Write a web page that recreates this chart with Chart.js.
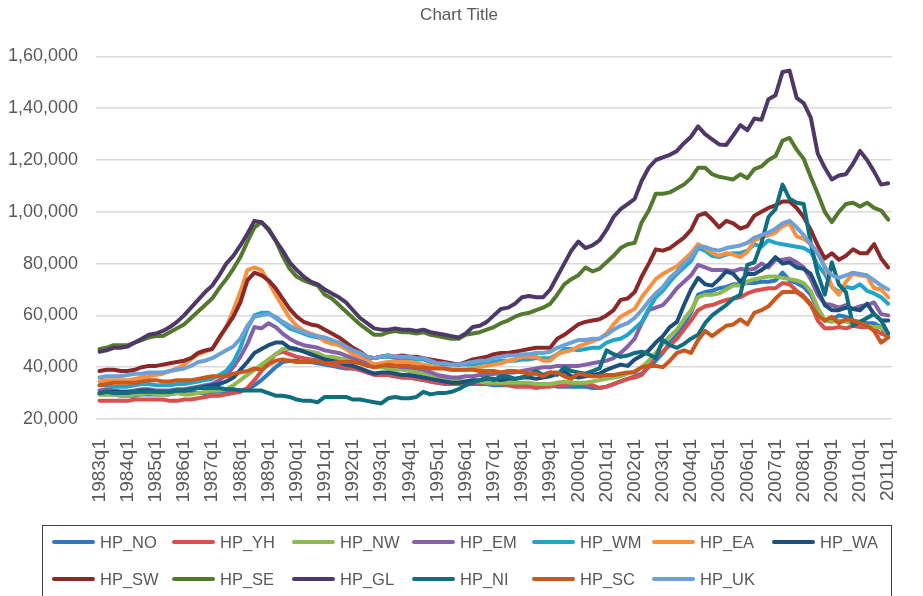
<!DOCTYPE html>
<html>
<head>
<meta charset="utf-8">
<title>Chart Title</title>
<script src="https://cdn.jsdelivr.net/npm/chart.js@4.4.0/dist/chart.umd.min.js"></script>
<style>
  html, body { margin: 0; padding: 0; background: #fff; }
  #wrap { width: 923px; height: 596px; }
</style>
</head>
<body>
<div id="wrap"><canvas id="hpChart" width="923" height="596"></canvas></div>
<script>
// quarterly categories 1983q1 .. 2011q1
const years = [];
for (let y = 1983; y <= 2011; y++) years.push(y);
const quarters = [];
years.forEach(y => [1, 2, 3, 4].forEach(q => {
  if (y < 2011 || q === 1) quarters.push(y + 'q' + q);
}));

const yTicks = [20000, 40000, 60000, 80000, 100000, 120000, 140000, 160000];

const seriesNames = ['HP_NO', 'HP_YH', 'HP_NW', 'HP_EM', 'HP_WM', 'HP_EA', 'HP_WA',
                     'HP_SW', 'HP_SE', 'HP_GL', 'HP_NI', 'HP_SC', 'HP_UK'];
const seriesColors = ['#3078C0', '#D8504D', '#8EB953', '#8761A8', '#22A6C8', '#F69142', '#1D4F7C',
                      '#8C2828', '#52792E', '#4E3868', '#106E7F', '#C9581C', '#6CA0D6'];

// values, one per quarter
const hpNO = [29500,29500,29500,29000, 29000,29000,29500,29500, 29500,29500,29500,30000, 30000,30000,30000,30000,
  30500,30500,30500,31000, 31000,31500,33000,35000, 37500,40000,42000,42500, 42500,42000,42000,41500,
  41000,40500,40000,39500, 39500,39000,38000,37500, 37500,37000,36500,36000, 36000,35500,35000,34500,
  34000,33500,33500,33500, 33500,33500,33500,33500, 33000,33000,33000,33000, 33000,33000,32500,32500,
  33000,32500,32500,32500, 32500,32500,32000,32000, 32500,33500,34500,35500, 36500,37500,40000,42500,
  45500,49500,52500,56500, 61000,68000,69000,69500, 70500,71000,72000,72000, 72500,72500,73000,73000,
  73500,76500,73500,72500, 71000,68000,62500,58000, 58500,60000,59500,58000, 57500,57000,57000,55500, 51500];

const hpYH = [27000,27000,27000,27000, 27000,27500,27500,27500, 27500,27500,27000,27000, 27500,27500,28000,28500,
  29000,29000,29500,30000, 30500,32000,35000,38500, 42000,45000,46000,45000, 44000,43500,43000,42500,
  41500,41000,40500,40000, 39500,39000,38000,37000, 37000,37000,36500,36000, 36000,35500,35000,34500,
  34000,34000,33500,33500, 34000,34000,34000,34000, 33500,33500,33000,32500, 32500,32500,32000,32500,
  32500,33000,33000,33500, 33500,33500,33000,32000, 32500,33500,34500,35500, 36000,37000,40500,44500,
  46000,48500,51000,54500, 58000,62000,63500,64000, 65000,66000,66500,67000, 68500,69500,70000,70500,
  70500,72500,72000,69500, 67500,64500,58000,55000, 55000,55500,55000,56000, 55500,55500,55000,53000, 52000];

const hpNW = [29500,29500,29500,29000, 29000,29500,29500,30000, 29500,29500,29500,30000, 29500,29500,30000,30500,
  31000,31000,31500,33000, 35000,37000,39000,41000, 43000,45000,47000,47000, 46500,46500,46000,45500,
  44000,44000,43500,43000, 42500,42000,41000,40000, 40000,39500,39000,39000, 38500,38000,37500,36500,
  36000,35500,35000,35000, 34500,34500,34500,34000, 34000,34000,34000,34000, 34000,34000,33500,33500,
  33500,34000,34500,34000, 34000,34000,34500,35000, 35500,36000,36500,37500, 38500,40000,42500,45500,
  49000,52000,54500,58500, 62000,67000,68000,68000, 68500,70000,71500,71500, 73000,74000,74500,75000,
  75000,74500,74000,73500, 72500,69500,63000,58000, 57500,58000,57500,57000, 57000,56000,55500,55500, 53000];

const hpEM = [31000,31500,31000,30500, 30500,31000,31500,31500, 31000,31000,31000,31500, 31500,32000,32500,33000,
  33500,35000,37000,40000, 44000,49000,55500,55000, 57000,55500,53000,51000, 49500,48500,48000,47500,
  46500,46000,45500,44500, 43500,42500,41500,41000, 41000,40500,40500,40000, 40000,39500,39000,38000,
  37000,36500,36000,36000, 36500,36500,37000,37000, 37500,37500,38000,38000, 38500,39000,39500,40000,
  40000,40500,40500,40500, 40500,41000,41500,42000, 42500,43500,45500,48000, 51000,57000,62000,63000,
  64000,67000,70500,73000, 75500,79500,78500,77500, 77500,77500,77000,78000, 77500,78000,80000,78500,
  81500,81500,82000,80500, 78500,74000,68000,64500, 64000,63000,64000,62500, 63500,64000,65000,60500, 60000];

const hpWM = [33000,33000,32500,32500, 32500,33000,33500,33500, 33000,33000,33000,33500, 33500,34000,34500,35000,
  35500,37000,38500,42000, 47500,55000,60000,61000, 61000,59000,57000,55000, 54000,53000,52000,51500,
  51000,50000,49000,47500, 46000,45000,44000,43500, 44000,44000,43500,43500, 43500,43000,43000,42000,
  41500,41000,41000,41000, 41000,41000,41500,42000, 42000,42500,42500,42500, 43000,43000,43500,43500,
  43500,45000,47000,47000, 46500,47000,47500,47500, 49500,50500,51000,52500, 55000,57500,62500,67000,
  69500,73000,76000,78500, 81000,86000,85000,83000, 82500,83500,84000,84000, 85000,87500,86500,89000,
  88000,87500,87000,86500, 86000,84500,79500,76000, 71000,69000,71000,70500, 72000,69500,68500,67000, 64500];

const hpEA = [34500,35000,35000,35000, 35000,35500,36000,36500, 37000,37500,38500,39500, 41000,43000,45000,46000,
  47000,51000,55500,62000, 69000,77500,78500,77500, 73000,68000,63500,59000, 56000,54000,53000,52000,
  50000,49000,48500,47000, 45000,44000,43000,41000, 41500,42000,42000,42000, 42000,41500,41000,40500,
  40000,39500,39000,39000, 39000,39500,40000,40500, 41000,41500,42500,43000, 44000,44000,44000,42500,
  42500,45000,46000,46500, 48000,49000,50000,51000, 53000,56500,59500,61000, 62500,67000,70500,74000,
  76000,77500,79000,81500, 84000,87500,86000,84000, 83000,84000,83500,82500, 84500,89000,90000,91000,
  92000,94500,95500,90500, 89500,87500,84000,79000, 71000,68000,73000,76000, 75500,75000,70500,70000, 67000];

const hpWA = [30000,30500,30500,30500, 30500,30500,31000,31000, 30500,30500,30500,31000, 31000,31500,32000,32500,
  33000,33500,34500,36000, 39000,42000,45500,47000, 48500,49500,49500,47500, 47000,46000,45000,44000,
  43000,42500,42000,41000, 40500,39500,38500,37500, 38000,38000,37500,37000, 37000,36500,36000,35500,
  35000,34500,34000,34000, 34500,35000,35000,35500, 35500,35000,35500,35500, 36000,36000,35500,36000,
  36500,37500,38500,36500, 36000,36500,37000,37500, 39000,40000,41000,40500, 43000,44500,46500,49500,
  52000,55500,57500,64000, 70000,74500,72000,71500, 74000,77000,76000,73000, 76000,76000,77500,79500,
  82500,80000,80500,78500, 78000,76000,70000,64000, 62000,62000,63000,62500, 62000,64500,60500,58000, 58000];

const hpSW = [38500,39000,39000,38500, 38500,39000,40000,40500, 40500,41000,41500,42000, 42500,43500,45500,46500,
  47000,51500,55500,59500, 65000,73500,76500,75500, 73500,70500,66500,62500, 59500,57500,56500,56000,
  54500,53000,51500,49500, 47500,46000,44000,43500, 44000,44500,44000,44500, 44000,44000,43500,43000,
  42500,42000,41500,41000, 42000,43000,43500,44000, 45000,45500,45500,46000, 46500,47000,47500,47500,
  47500,51000,52500,54500, 56500,57500,58000,58500, 60000,62000,66000,66500, 69000,75000,80000,85500,
  85000,86000,88000,90000, 93000,98500,99500,97000, 94000,96500,95500,93500, 94500,98500,100000,101500,
  102500,104000,104000,101500, 98000,93000,87000,82000, 84000,81500,83000,85500, 84000,84000,87500,82000, 78500];

const hpSE = [47000,47500,48500,48500, 48500,49500,50500,51500, 52000,52000,53500,55000, 56500,59000,61500,64000,
  66500,70500,74000,78000, 82500,88500,94000,96000, 93500,89000,83000,78000, 75000,73500,72500,71500,
  68000,66500,64000,61500, 59000,56500,54500,52500, 52500,53500,54000,53500, 53500,53000,53500,52500,
  52000,51500,51000,51000, 52500,53000,53500,54500, 55500,57000,58000,59500, 60500,61000,62000,63000,
  64500,68000,72000,74000, 75500,78500,77000,78000, 80500,83000,86000,87500, 88000,96000,100500,107000,
  107000,107500,109000,110500, 113000,117000,117000,114500, 113500,113000,112500,114500, 113000,116500,117500,120000,
  121500,127500,128500,124000, 120500,113500,107000,100000, 96000,100000,103000,103500, 102000,103500,101500,100500, 97000];

const hpGL = [46000,46500,47500,47500, 48000,49500,51000,52500, 53000,54000,55500,57500, 60000,63000,66000,69000,
  71500,75500,80000,83000, 87000,91500,96500,96000, 93000,89000,85000,80500, 77500,75000,73000,72000,
  70000,68500,67000,65000, 62000,59000,57000,55000, 54500,54500,55000,54500, 54500,54000,54500,53500,
  53000,52500,52000,51500, 53000,55500,56000,57500, 60000,62500,63000,64500, 67000,67500,67000,67000,
  70000,75000,80000,85000, 88500,86000,87000,89000, 93000,98000,101000,103000, 105000,112000,117000,120000,
  121000,122000,123500,126500, 129000,133000,130000,128000, 126000,125800,129500,133500, 131500,136000,135500,143500,
  145000,154000,154500,144000, 142000,136500,122500,117000, 112500,114000,114500,118500, 123500,120000,115500,110500, 111000];

const hpNI = [30000,30500,30000,30000, 30000,30500,30500,30500, 30500,30500,30500,31000, 31000,31500,32000,32000,
  32000,32000,31500,31500, 31000,31000,31000,31000, 30000,29000,29000,28500, 27500,27000,27000,26500,
  28500,28500,28500,28500, 27500,27500,27000,26500, 26000,28000,28500,28000, 28000,28500,30500,29500,
  30000,30000,30500,31500, 33000,34000,35000,36000, 35000,36500,36500,35500, 36000,37000,38500,37000,
  38000,37000,40000,38500, 38000,37500,38500,39500, 46500,45000,44000,44500, 45500,46000,45000,43500,
  50500,48500,47500,49000, 51000,52500,57000,60000, 62000,64000,66500,68000, 79500,80500,88000,98000,
  101000,110500,105000,103500, 103000,88000,76000,68000, 80500,72000,69000,56000, 57500,59000,60500,58000, 53000];

const hpSC = [33000,33500,34000,34000, 34000,34000,34500,35000, 35000,34500,34500,35000, 35000,35000,35500,36000,
  36500,36500,36500,37500, 38000,38500,39500,39000, 41000,42500,43000,42500, 42000,42000,42000,42500,
  41500,41500,42000,42000, 42000,41500,40500,40000, 40500,41000,40500,40500, 40500,40000,40000,39500,
  39500,39500,39000,39000, 39000,39000,38500,38500, 38500,38000,38500,38500, 38000,37500,37500,36500,
  38000,38000,36500,35500, 37500,37000,36500,36500, 37000,37000,37500,38000, 38000,40000,40500,40500,
  40000,42500,45500,46500, 45500,50500,54000,52000, 54000,56000,56500,58500, 56500,61000,62000,63500,
  66500,69000,69000,69000, 67000,64000,60000,58000, 59500,57000,58500,58000, 57000,56000,54000,49500, 51500];

const hpUK = [36000,36500,36500,36500, 37000,37500,37500,38000, 38000,38000,38500,39000, 39500,40500,42000,42500,
  43500,45000,46500,48000, 51000,56000,59500,60000, 60500,59500,57500,56000, 54500,53500,52500,52000,
  51500,50500,49500,48000, 46500,45500,44000,43500, 44000,44500,44000,44000, 44000,43500,43500,42500,
  41500,41500,41000,41000, 41500,42000,42500,42500, 43500,44000,44500,44500, 45000,45000,45500,45500,
  46000,47500,48500,49500, 50500,50500,51000,51000, 52500,54500,56000,57000, 59000,62000,65500,68500,
  71000,74500,77000,80000, 82500,86500,86500,85500, 85000,86000,86500,87000, 88000,90000,91000,92000,
  93500,95500,96500,94000, 91000,87500,84000,78500, 75500,74500,75500,76500, 76000,75500,73500,71500, 70000];

const seriesValues = [hpNO, hpYH, hpNW, hpEM, hpWM, hpEA, hpWA, hpSW, hpSE, hpGL, hpNI, hpSC, hpUK];

const FONT = "'Liberation Sans', Arial, sans-serif";
const TEXT = '#595959';

// 1,60,000 style grouping
function indianFormat(v) {
  const s = String(Math.round(v));
  if (s.length <= 3) return s;
  const rest = s.slice(0, -3).replace(/\B(?=(\d{2})+(?!\d))/g, ',');
  return rest + ',' + s.slice(-3);
}

// legend in a frame, fixed columns like the spreadsheet one
const boxLegend = {
  id: 'boxLegend',
  afterDraw(chart, args, opts) {
    const ctx = chart.ctx;
    ctx.save();
    ctx.strokeStyle = '#404040';
    ctx.lineWidth = 1;
    ctx.strokeRect(opts.left + 0.5, opts.top + 0.5, opts.right - opts.left, chart.height);
    ctx.font = opts.fontSize + 'px ' + FONT;
    ctx.textBaseline = 'middle';
    ctx.lineCap = 'round';
    chart.data.datasets.forEach((ds, i) => {
      const col = i % opts.perRow;
      const row = Math.floor(i / opts.perRow);
      const x = opts.left + opts.padLeft + col * opts.colWidth;
      const y = opts.top + opts.padTop + row * opts.rowHeight;
      ctx.strokeStyle = ds.borderColor;
      ctx.lineWidth = 4;
      ctx.beginPath();
      ctx.moveTo(x + 2, y);
      ctx.lineTo(x + opts.lineLen - 2, y);
      ctx.stroke();
      ctx.fillStyle = TEXT;
      ctx.fillText(ds.label, x + opts.lineLen + 5, y + 1);
    });
    ctx.restore();
  }
};

const datasets = seriesNames.map((name, i) => ({
  label: name,
  data: seriesValues[i],
  borderColor: seriesColors[i],
  backgroundColor: seriesColors[i],
  borderWidth: 4,
  pointRadius: 0,
  pointHoverRadius: 0,
  tension: 0,
  borderJoinStyle: 'round',
  borderCapStyle: 'round',
  fill: false,
  order: seriesNames.length - i   // later series painted on top
}));

new Chart(document.getElementById('hpChart'), {
  type: 'line',
  data: { labels: quarters, datasets },
  options: {
    responsive: false,
    animation: false,
    devicePixelRatio: 1,
    layout: { padding: { left: 0, right: 5, top: 0, bottom: 84 } },
    plugins: {
      legend: { display: false },
      tooltip: { enabled: false },
      title: {
        display: true,
        text: 'Chart Title',
        color: TEXT,
        font: { family: FONT, size: 17, weight: 'normal' },
        padding: { top: 5, bottom: 31 }
      },
      boxLegend: {
        left: 42, top: 525, right: 891,
        padLeft: 10, padTop: 17,
        colWidth: 120, rowHeight: 37, lineLen: 43,
        perRow: 7, fontSize: 16.5
      }
    },
    scales: {
      x: {
        offset: true,
        grid: { display: false },
        border: { display: false },
        ticks: {
          autoSkip: false,
          minRotation: 90,
          maxRotation: 90,
          padding: 12,
          color: TEXT,
          font: { family: FONT, size: 19 },
          callback(v, i) { return i % 4 === 0 ? this.getLabelForValue(v) : ''; }
        },
        afterFit(scale) { scale.height = 93; }
      },
      y: {
        min: yTicks[0],
        max: yTicks[yTicks.length - 1],
        afterBuildTicks(scale) { scale.ticks = yTicks.map(v => ({ value: v })); },
        grid: { color: '#D9D9D9', lineWidth: 1.5, drawTicks: false },
        border: { display: false },
        ticks: {
          padding: 18,
          color: TEXT,
          font: { family: FONT, size: 18 },
          callback: v => indianFormat(v)
        },
        afterFit(scale) { scale.width = 96; }
      }
    }
  },
  plugins: [boxLegend]
});
</script>
</body>
</html>
